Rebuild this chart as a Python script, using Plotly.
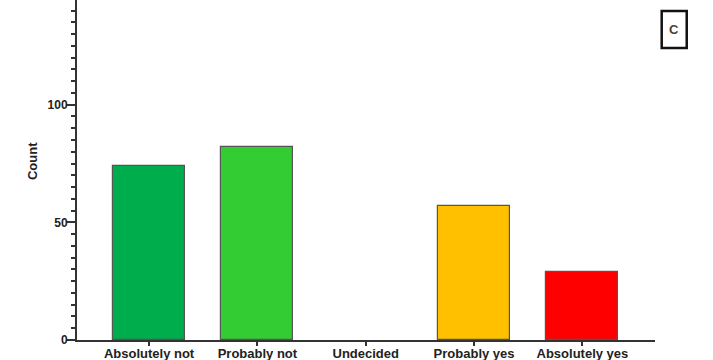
import plotly.graph_objects as go

# Survey responses
categories = ["Absolutely not", "Probably not", "Undecided", "Probably yes", "Absolutely yes"]
counts = [74, 82, 0, 57, 29]
bar_colors = ["#00AD4C", "#33CC33", "#FFFFFF", "#FFC000", "#FF0000"]
y_tick_values = [0, 50, 100]
y_tick_labels = ["0", "50", "100"]

FONT = "Liberation Sans, Arial, sans-serif"
AXIS_COLOR = "#333333"

# empty categories get no outline
outline_widths = [1.2 if c > 0 else 0 for c in counts]

fig = go.Figure()
fig.add_trace(go.Bar(
    x=categories,
    y=counts,
    width=0.665,
    marker=dict(color=bar_colors, line=dict(color="#555555", width=outline_widths)),
    showlegend=False,
))

fig.update_layout(
    width=713,
    height=360,
    margin=dict(l=77, r=58, t=0, b=20),
    paper_bgcolor="white",
    plot_bgcolor="white",
    font=dict(family=FONT, color="#222222"),
    xaxis=dict(
        range=[-0.665, 4.67],
        automargin=False,
        showline=True,
        linecolor=AXIS_COLOR,
        linewidth=2,
        ticks="outside",
        ticklen=4,
        tickwidth=1.5,
        tickcolor=AXIS_COLOR,
        ticklabelstandoff=-4,
        tickfont=dict(family=FONT, size=13, weight="bold", color="#222222"),
        showgrid=False,
        zeroline=False,
    ),
    yaxis=dict(
        range=[0, 144.5],
        automargin=False,
        showline=True,
        linecolor=AXIS_COLOR,
        linewidth=2,
        tickvals=y_tick_values,
        ticktext=y_tick_labels,
        ticks="outside",
        ticklen=9,
        tickwidth=1.5,
        tickcolor=AXIS_COLOR,
        ticklabelstandoff=-4,
        tickfont=dict(family=FONT, size=12, weight="bold", color="#222222"),
        minor=dict(dtick=5, ticks="outside", ticklen=4, tickwidth=1.5, tickcolor=AXIS_COLOR, showgrid=False),
        showgrid=False,
        zeroline=False,
    ),
    bargap=0,
)

# Rotated axis title
fig.add_annotation(
    text="<b>Count</b>",
    xref="paper", yref="paper",
    x=-0.078, y=0.526,
    xanchor="center", yanchor="middle",
    textangle=-90,
    showarrow=False,
    font=dict(family=FONT, size=13, color="#222222"),
)

# Panel letter in a framed box
fig.add_shape(
    type="rect",
    xref="paper", yref="paper",
    x0=1.0116, x1=1.0549, y0=0.8588, y1=0.9676,
    line=dict(color="#111111", width=2.5),
    fillcolor="white",
)
fig.add_annotation(
    text="<b>C</b>",
    xref="paper", yref="paper",
    x=1.0333, y=0.913,
    xanchor="center", yanchor="middle",
    showarrow=False,
    font=dict(family=FONT, size=13, color="#444444"),
)

fig.write_html("out.html")
